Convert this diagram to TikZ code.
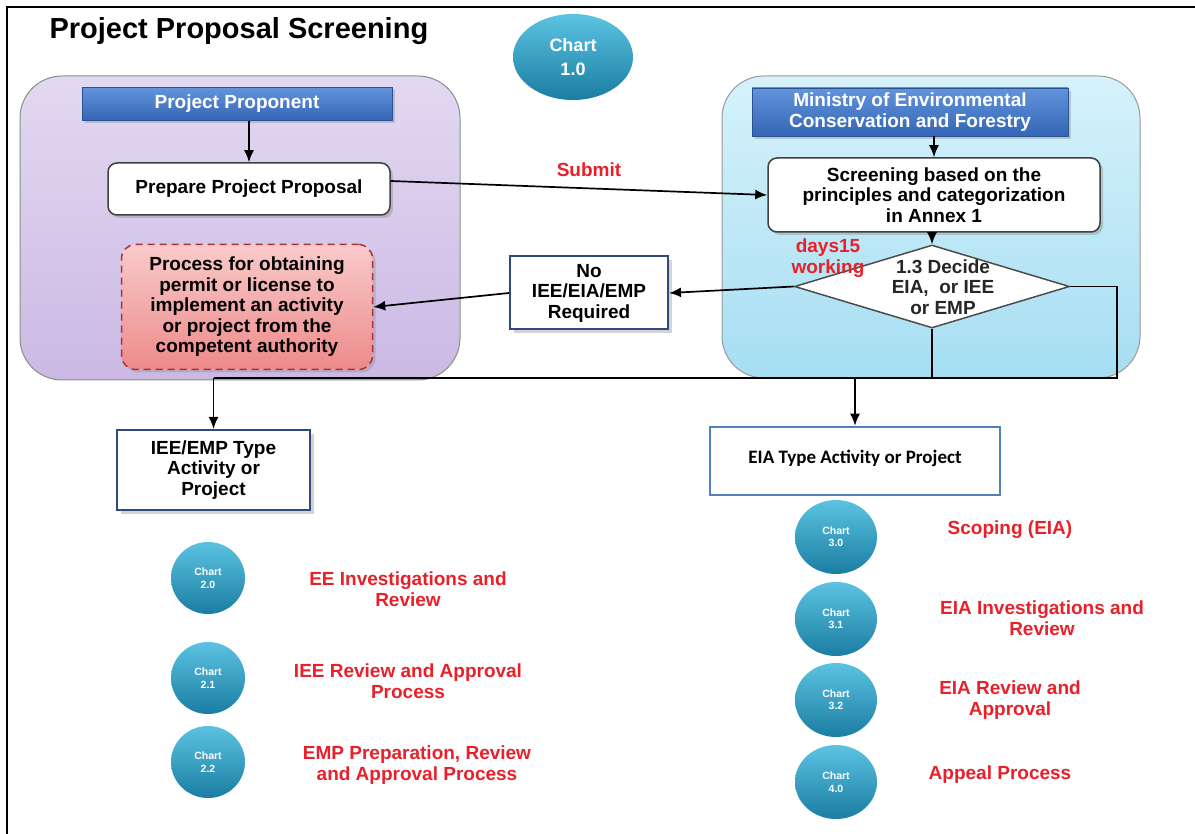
\documentclass[tikz,border=0pt]{standalone}
\usepackage{fontspec}
\setmainfont{Liberation Sans}
\newfontfamily\calfont{Carlito}
\usetikzlibrary{shapes.geometric,shadows,arrows.meta}

\definecolor{lavtop}{HTML}{E2D9F1}
\definecolor{lavbot}{HTML}{CBB9E4}
\definecolor{skytop}{HTML}{D6F2FB}
\definecolor{skybot}{HTML}{A6DEF2}
\definecolor{hdrtop}{HTML}{6194DC}
\definecolor{hdrbot}{HTML}{3565B5}
\definecolor{pinktop}{HTML}{F9CACA}
\definecolor{pinkbot}{HTML}{EE8A8A}
\definecolor{balltop}{HTML}{5CC3E2}
\definecolor{ballbot}{HTML}{1A7DA2}
\definecolor{navy}{HTML}{2F4B7C}
\definecolor{wordblue}{HTML}{4F81BD}
\definecolor{lblred}{HTML}{E8202A}

\begin{document}
\begin{tikzpicture}[x=1pt,y=-1pt,
  base/.style={font=\fontsize{19}{20.5}\selectfont\bfseries, align=center},
  hdr/.style={base, text=white, top color=hdrtop, bottom color=hdrbot, draw=hdrbot!80!black,
    drop shadow={opacity=0.35, shadow xshift=3pt, shadow yshift=-3pt}},
  wbox/.style={base, fill=white, draw=black!75, line width=1.5pt, rounded corners=9pt,
    drop shadow={opacity=0.35, shadow xshift=3pt, shadow yshift=-3pt}},
  sqbox/.style={base, fill=white, draw=navy, line width=2pt,
    drop shadow={opacity=0.35, shadow xshift=4pt, shadow yshift=-4pt}},
  ball/.style={ellipse, top color=balltop, bottom color=ballbot, text=white, align=center,
    inner sep=0pt, font=\fontsize{10.5}{12.5}\selectfont\bfseries},
  redlbl/.style={base, text=lblred},
  conn/.style={line width=1.7pt},
  arr/.style={conn, -{Latex[length=12pt,width=10pt]}}]
\useasboundingbox (0,0) rectangle (1195,834);
\draw[line width=2pt] (7,834) -- (7,7) -- (1195,7);

\node[font=\fontsize{29}{32}\selectfont\bfseries, anchor=west] (title) at (46,31) {Project Proposal Screening};
\node[ball, minimum width=120, minimum height=86, font=\fontsize{18}{24}\selectfont\bfseries] (c10) at (573,57) {Chart\\1.0};

\draw[top color=lavtop, bottom color=lavbot, draw=black!45, line width=1pt, rounded corners=42pt] (20,76) rectangle (460,380);
\draw[top color=skytop, bottom color=skybot, draw=black!40, line width=1pt, rounded corners=42pt] (722,76) rectangle (1140,378);

\node[hdr, minimum width=310, minimum height=33] (prop) at (237,104) {Project Proponent};
\node[wbox, minimum width=282, minimum height=52] (prep) at (249,189) {Prepare Project Proposal};
\node[base, minimum width=251, minimum height=125, rounded corners=14pt, top color=pinktop, bottom color=pinkbot,
  draw=red!60!black!80, dashed, line width=1.5pt, dash pattern=on 7pt off 5pt,
  drop shadow={opacity=0.3, shadow xshift=3pt, shadow yshift=-3pt}] (proc) at (247,307)
  {Process for obtaining\\permit or license to\\implement an activity\\or project from the\\competent authority};
\node[sqbox, minimum width=158, minimum height=73] (none) at (589,293) {No\\IEE/EIA/EMP\\Required};

\node[hdr, minimum width=316, minimum height=48] (moecf) at (910,112) {Ministry of Environmental\\Conservation and Forestry};
\node[wbox, minimum width=332, minimum height=74] (screen) at (934,195) {Screening based on the\\principles and categorization\\in Annex 1};
\node[diamond, fill=white, draw=black!70, line width=1.5pt, minimum width=275, minimum height=83, inner sep=0pt] (dec) at (932,286.5) {};
\node[base, text=black!85] (dect) at (943,287) {1.3 Decide\\EIA,~ or IEE\\or EMP};
\node[redlbl] (days) at (828,258) {days15\\working};
\node[redlbl] (submit) at (589,170) {Submit};

\node[sqbox, minimum width=193, minimum height=80] (ieeb) at (213.5,470) {IEE/EMP Type\\Activity or\\Project};
\node[draw=wordblue, line width=2.5pt, fill=white, minimum width=290, minimum height=68,
  font=\calfont\fontsize{19}{22}\selectfont\bfseries] (eiab) at (855,461) {\raisebox{9pt}{EIA Type Activity or Project}};

\coordinate (busL) at (213.5,378);
\coordinate (busR) at (1117,378);
\draw[arr] (prep.north |- prop.south) -- (prep.north);
\draw[arr] ([yshift=8pt]prep.east) -- (screen.west);
\draw[arr] (screen.north |- moecf.south) -- (screen.north);
\draw[arr] (screen.south -| dec.north) -- (dec.north);
\draw[arr] (dec.west) -- (none.east);
\draw[arr] (none.west) -- (proc.east);
\draw[conn] (dec.east) -| (busR) -- (busL);
\draw[conn] (dec.south) -- (dec.south |- busL);
\draw[arr] (busL) -- (ieeb.north);
\draw[arr] (eiab.north |- busL) -- (eiab.north);

\node[ball, minimum width=74, minimum height=72] (c20) at (208,578) {Chart\\2.0};
\node[ball, minimum width=74, minimum height=72] (c21) at (208,678) {Chart\\2.1};
\node[ball, minimum width=74, minimum height=72] (c22) at (208,762) {Chart\\2.2};
\node[redlbl] (l20) at (408,589) {EE Investigations and\\Review};
\node[redlbl] (l21) at (408,681) {IEE Review and Approval\\Process};
\node[redlbl] (l22) at (417,765) {EMP Preparation, Review\\and Approval Process};

\node[ball, minimum width=82, minimum height=74] (c30) at (836,537) {Chart\\3.0};
\node[ball, minimum width=82, minimum height=74] (c31) at (836,619) {Chart\\3.1};
\node[ball, minimum width=82, minimum height=74] (c32) at (836,700) {Chart\\3.2};
\node[ball, minimum width=82, minimum height=74] (c40) at (836,782) {Chart\\4.0};
\node[redlbl] (l30) at (1010,530) {Scoping (EIA)};
\node[redlbl] (l31) at (1042,618) {EIA Investigations and\\Review};
\node[redlbl] (l32) at (1010,700) {EIA Review and\\Approval};
\node[redlbl] (l40) at (1000,775) {Appeal Process};
\end{tikzpicture}
\end{document}
